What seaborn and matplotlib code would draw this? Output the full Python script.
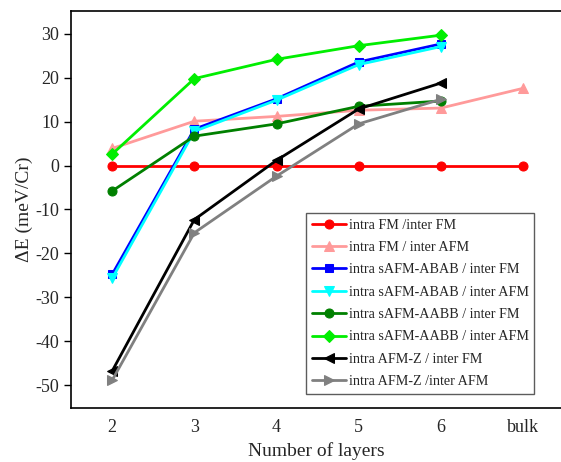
import matplotlib
matplotlib.use("Agg")
import matplotlib.pyplot as plt
import seaborn as sns
import pandas as pd
import numpy as np

layers = ["2", "3", "4", "5", "6", "bulk"]

fm_fm = [0, 0, 0, 0, 0, 0]
fm_afm = [3.9, 10.1, 11.2, 12.6, 13.1, 17.6]
abab_fm = [-24.8, 8.3, 15.2, 23.6, 27.7]
abab_afm = [-25.7, 7.8, 14.9, 23.0, 27.1]
aabb_fm = [-5.8, 6.7, 9.5, 13.5, 14.7]
aabb_afm = [2.6, 19.8, 24.2, 27.3, 29.7]
afmz_fm = [-46.8, -12.3, 1.2, 12.9, 18.8]
afmz_afm = [-48.9, -15.3, -2.4, 9.5, 15.1]

series = [
    ("intra FM /inter FM", fm_fm, "#ff0000", "o", 6.5),
    ("intra FM / inter AFM", fm_afm, "#ff9a9a", "^", 7),
    ("intra sAFM-ABAB / inter FM", abab_fm, "#0000ff", "s", 6),
    ("intra sAFM-ABAB / inter AFM", abab_afm, "#00ffff", "v", 7),
    ("intra sAFM-AABB / inter FM", aabb_fm, "#008000", "o", 6.5),
    ("intra sAFM-AABB / inter AFM", aabb_afm, "#00ee00", "D", 6),
    ("intra AFM-Z / inter FM", afmz_fm, "#000000", "<", 7),
    ("intra AFM-Z /inter AFM", afmz_afm, "#808080", ">", 7),
]

sns.set_style("white")
plt.rcParams["font.family"] = ["Liberation Serif", "DejaVu Serif"]
plt.rcParams["axes.unicode_minus"] = False

fig = plt.figure(figsize=(5.61, 4.62), dpi=100)
ax = fig.add_axes([0.1266, 0.1169, 0.8734, 0.8593])

xpos = {lab: i for i, lab in enumerate(layers)}
for name, vals, color, marker, ms in series:
    df = pd.DataFrame({"x": [xpos[l] for l in layers[:len(vals)]], "y": vals})
    sns.lineplot(data=df, x="x", y="y", ax=ax, color=color, marker=marker,
                 markersize=ms, markeredgecolor=color, linewidth=2.0,
                 label=name, sort=False)

ax.set_xlim(-0.5, 5.46)
ax.set_ylim(-55.2, 35.2)
ax.set_xticks(range(len(layers)))
ax.set_xticklabels(layers)
ax.set_yticks(np.arange(-50, 31, 10))
ax.tick_params(axis="y", direction="out", length=5, width=1, labelsize=13, color="black", left=True)
ax.tick_params(axis="x", length=0, labelsize=13, pad=8)
ax.set_xlabel("Number of layers", fontsize=14)
ax.set_ylabel("ΔE (meV/Cr)", fontsize=14, labelpad=2)

for s in ["left", "bottom", "top"]:
    ax.spines[s].set_visible(True)
    ax.spines[s].set_color("black")
    ax.spines[s].set_linewidth(1.2)
ax.spines["right"].set_visible(False)

leg = ax.legend(loc="upper left", bbox_to_anchor=(0.48, 0.491), fontsize=10.2,
                frameon=True, fancybox=False, edgecolor="#333333",
                handlelength=2.4, handletextpad=0.2, labelspacing=0.66,
                borderpad=0.4, borderaxespad=0)
leg.get_frame().set_linewidth(1.0)

fig.savefig("out.png", dpi=100)
